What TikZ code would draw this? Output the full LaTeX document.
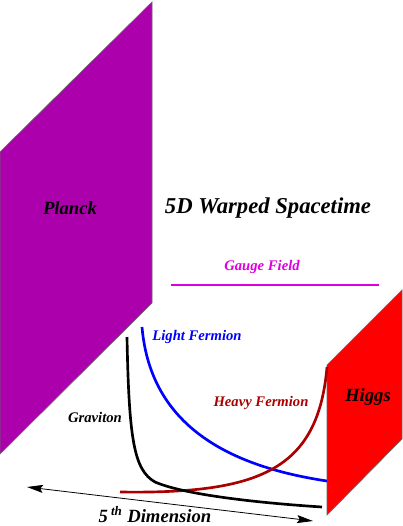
\documentclass[tikz,border=0pt]{standalone}
\usepackage{fontspec}
\setmainfont{Liberation Serif}
\usetikzlibrary{arrows.meta}
\definecolor{planck}{HTML}{AD00AD}
\definecolor{higgs}{HTML}{FF0000}
\definecolor{gauge}{HTML}{DD00DD}
\definecolor{light}{HTML}{0000FF}
\definecolor{heavy}{HTML}{AA0000}

\begin{document}
\begin{tikzpicture}[x=.75pt,y=-.75pt,
 brane/.style={draw=gray!80!black,line width=.5pt},
 lbl/.style={font=\fontsize{11}{13}\selectfont\bfseries\itshape,inner sep=1pt},
 big/.style={font=\fontsize{14}{16}\selectfont\bfseries\itshape,inner sep=1pt},
 curve/.style={line width=2pt}, >={Stealth[length=12pt,width=6pt,inset=2pt]}]
\useasboundingbox (0,0) rectangle (403,526);
% branes
\fill[planck,brane] (0,152) -- (152,2) -- (152,303) -- (0,454) -- cycle;
\fill[higgs,brane] (327,365) -- (402,290) -- (402,439) -- (327,515) -- cycle;
\node[big] (planck) at (70,208) {Planck};
\node[big] (higgs) at (368,397) {Higgs};
\node[font=\fontsize{17}{19}\selectfont\bfseries\itshape] (title) at (268,208) {5D Warped Spacetime};
% profiles
\node[lbl,gauge] (gf) at (262,267) {Gauge Field};
\coordinate (g1) at (171,285);
\coordinate (g2) at (379,285);
\draw[curve,gauge] (g1) -- (g2);
\node[lbl,light] (lf) at (197,337) {Light Fermion};
\draw[curve,light] (142,327) .. controls (150,420) and (220,465) .. (327,481);
\node[lbl,heavy] (hf) at (261,403) {Heavy Fermion};
\draw[curve,heavy] (120,492) .. controls (260,494) and (318,470) .. (327,367);
\node[lbl] (gr) at (95,417) {Graviton};
\draw[curve] (127,337) .. controls (129,440) and (134,470) .. (155,482)
 .. controls (185,495) and (260,503) .. (322,507);
% fifth dimension
\coordinate (d1) at (27,487);
\coordinate (d2) at (313,521);
\draw[<->,line width=.6pt] (d1) -- (d2);
\node[big,anchor=base] (dim) at (155,522) {5\,\textsuperscript{th} Dimension};
\end{tikzpicture}
\end{document}
